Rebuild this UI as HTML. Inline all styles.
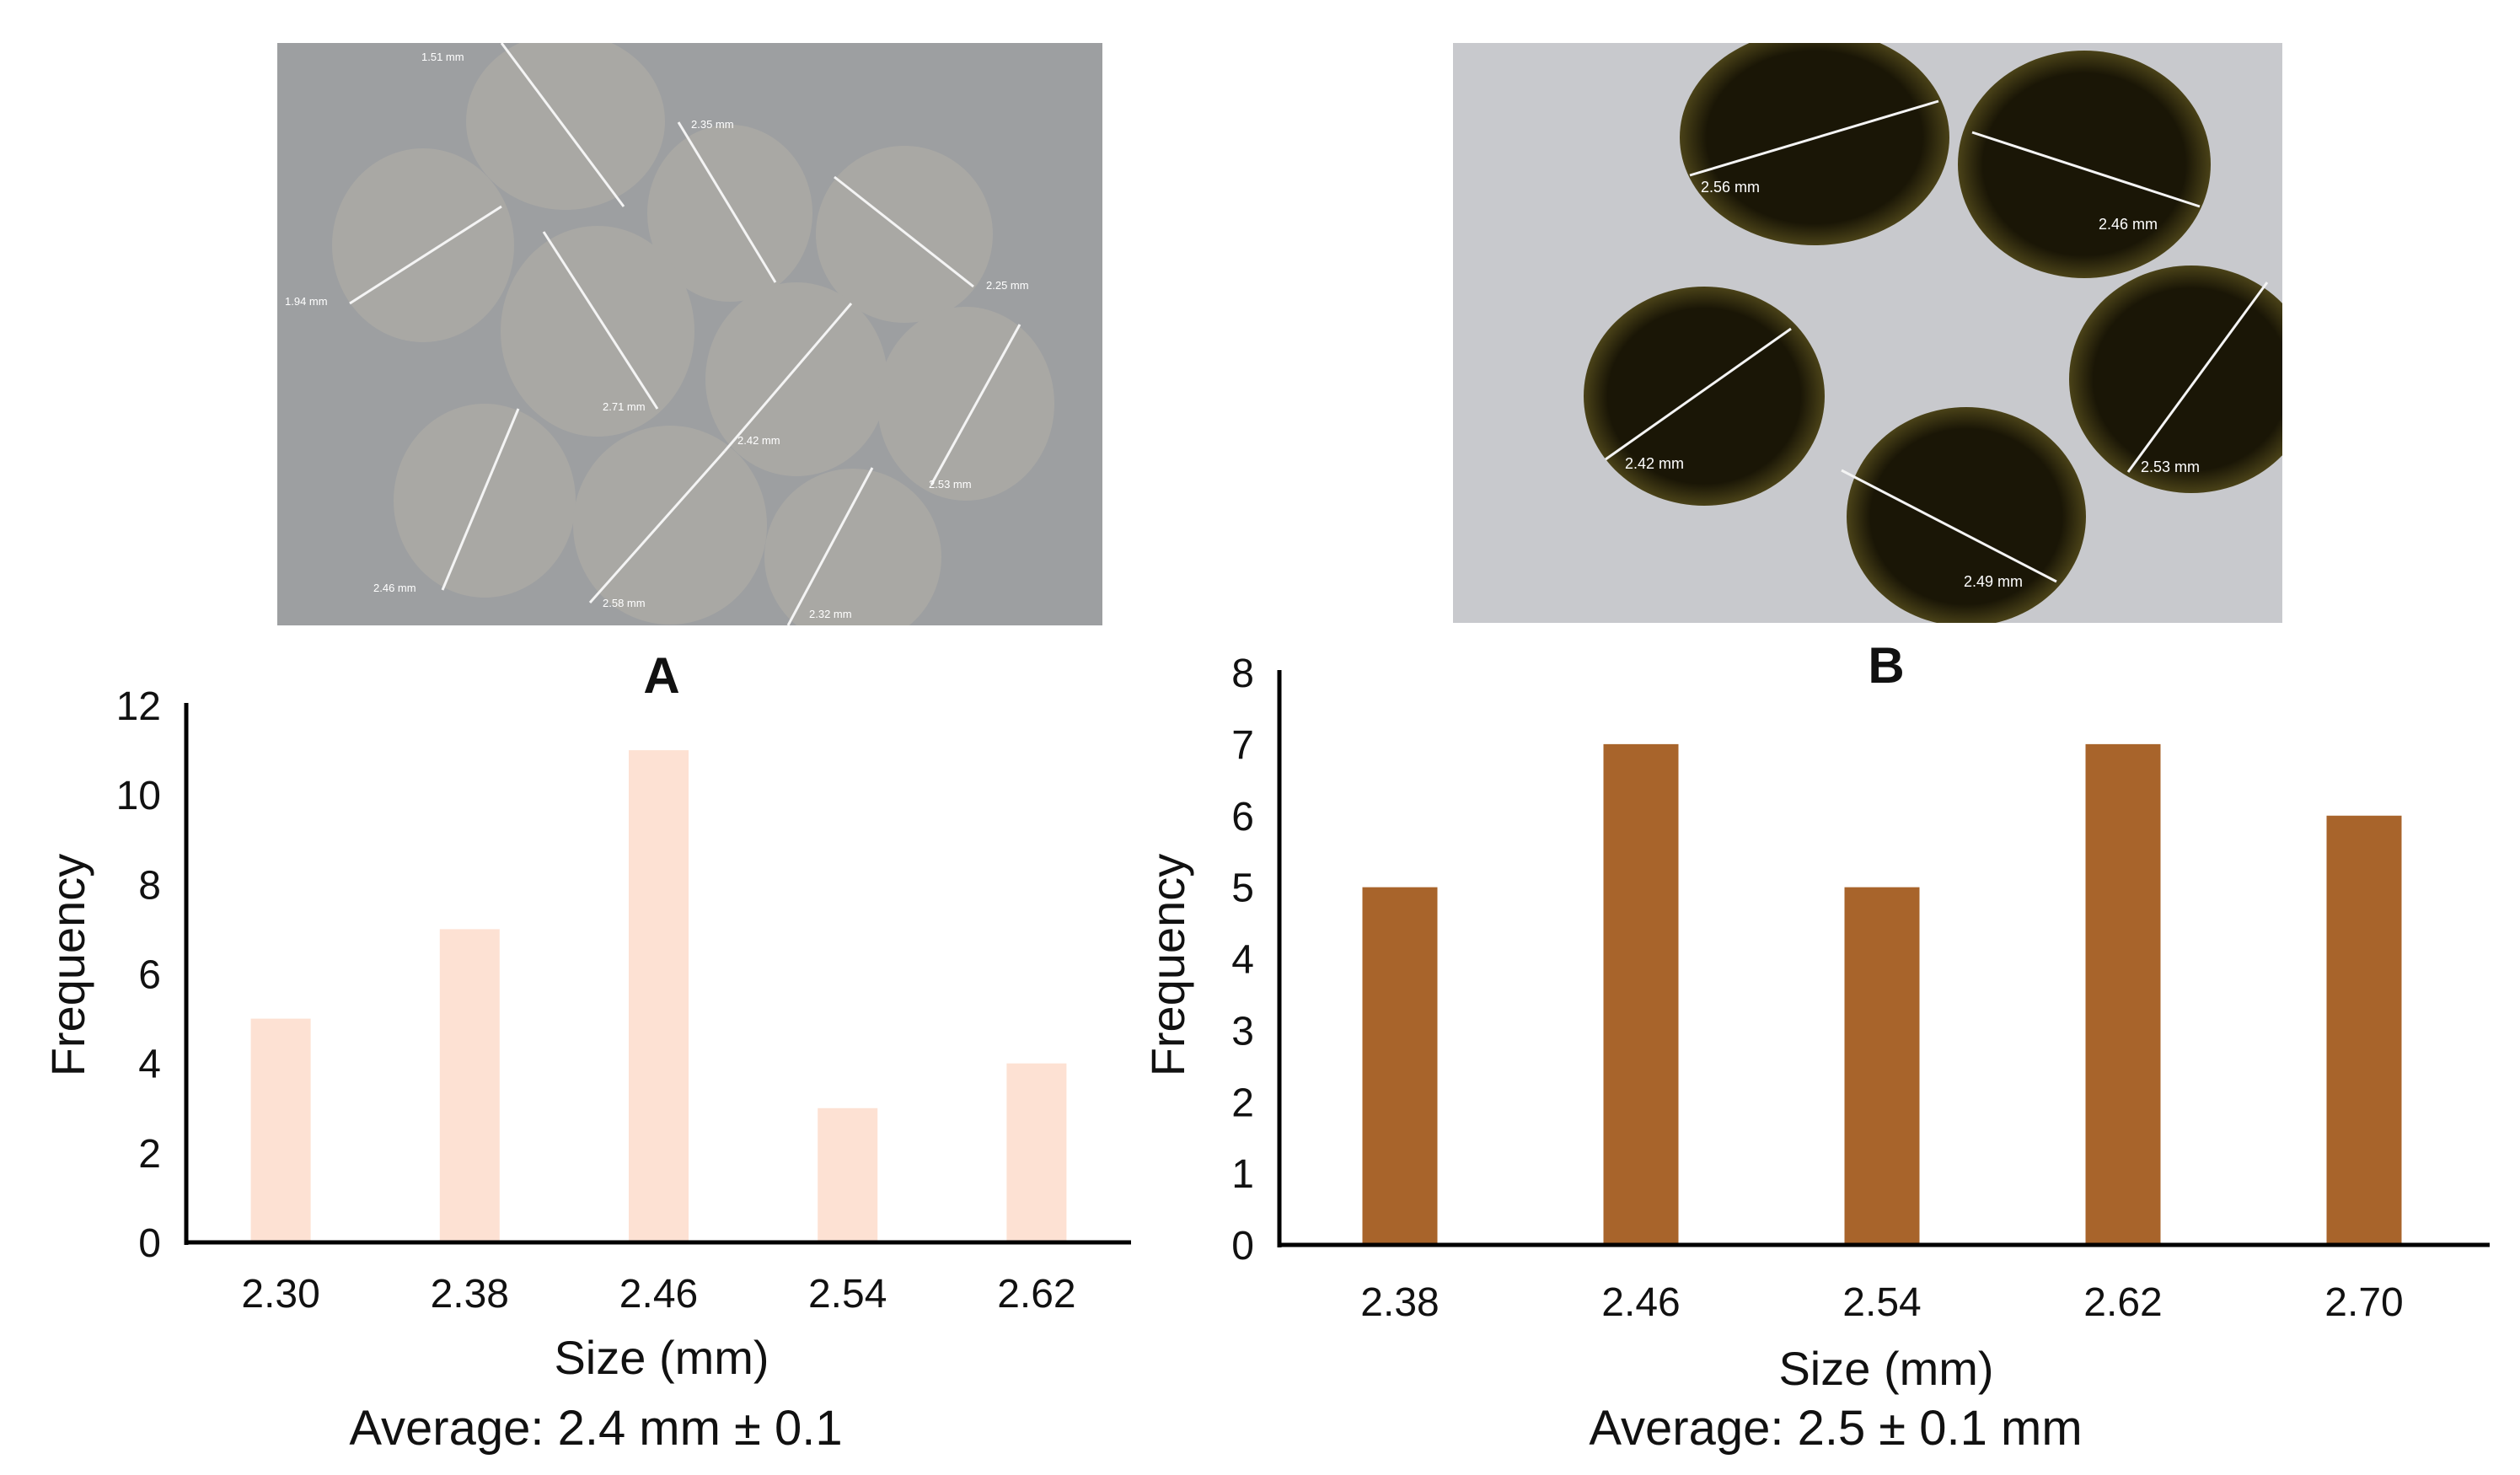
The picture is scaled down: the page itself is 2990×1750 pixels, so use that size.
<!DOCTYPE html>
<html><head><meta charset="utf-8"><style>
html,body{margin:0;padding:0;background:#fff}
svg{display:block}
text{font-family:"Liberation Sans",Arial,sans-serif;fill:#111}
</style></head><body>
<svg id="fig" width="2990" height="1750" viewBox="0 0 2990 1750" xmlns="http://www.w3.org/2000/svg">
<defs>
<clipPath id="clipA"><rect x="329" y="51" width="979" height="691"/></clipPath>
<clipPath id="clipB"><rect x="1724" y="51" width="984" height="688"/></clipPath>
<radialGradient id="seedB"><stop offset="0.8" stop-color="#1a1606"/><stop offset="1" stop-color="#4a4218"/></radialGradient>
</defs>
<g clip-path="url(#clipA)">
<rect x="329" y="51" width="979" height="691" fill="#9d9fa1"/>
<g fill="#a9a8a4">
<ellipse cx="671" cy="144" rx="118" ry="105"/><ellipse cx="502" cy="291" rx="108" ry="115"/>
<ellipse cx="866" cy="253" rx="98" ry="105"/><ellipse cx="1073" cy="278" rx="105" ry="105"/>
<ellipse cx="709" cy="393" rx="115" ry="125"/><ellipse cx="945" cy="450" rx="108" ry="115"/>
<ellipse cx="1146" cy="479" rx="105" ry="115"/><ellipse cx="575" cy="594" rx="108" ry="115"/>
<ellipse cx="795" cy="623" rx="115" ry="118"/><ellipse cx="1012" cy="661" rx="105" ry="105"/>
</g>
<g stroke="#f4f4f4" stroke-width="3">
<line x1="595" y1="51" x2="740" y2="245"/><line x1="415" y1="360" x2="595" y2="245"/>
<line x1="805" y1="145" x2="920" y2="335"/><line x1="990" y1="210" x2="1155" y2="340"/>
<line x1="645" y1="275" x2="780" y2="485"/><line x1="860" y1="535" x2="1010" y2="360"/>
<line x1="1105" y1="575" x2="1210" y2="385"/><line x1="525" y1="700" x2="615" y2="485"/>
<line x1="700" y1="715" x2="860" y2="535"/><line x1="935" y1="742" x2="1035" y2="555"/>
</g>
<g font-size="13" fill="#fff">
<text x="500" y="72" style="fill:#fff">1.51 mm</text><text x="820" y="152" style="fill:#fff">2.35 mm</text>
<text x="338" y="362" style="fill:#fff">1.94 mm</text><text x="1170" y="343" style="fill:#fff">2.25 mm</text>
<text x="715" y="487" style="fill:#fff">2.71 mm</text><text x="875" y="527" style="fill:#fff">2.42 mm</text>
<text x="1102" y="579" style="fill:#fff">2.53 mm</text><text x="443" y="702" style="fill:#fff">2.46 mm</text>
<text x="715" y="720" style="fill:#fff">2.58 mm</text><text x="960" y="733" style="fill:#fff">2.32 mm</text>
</g>
</g>
<g clip-path="url(#clipB)">
<rect x="1724" y="51" width="984" height="688" fill="#c8c9cd"/>
<g fill="url(#seedB)">
<ellipse cx="2153" cy="163" rx="160" ry="128"/><ellipse cx="2473" cy="195" rx="150" ry="135"/>
<ellipse cx="2022" cy="470" rx="143" ry="130"/><ellipse cx="2333" cy="613" rx="142" ry="130"/>
<ellipse cx="2600" cy="450" rx="145" ry="135"/>
</g>
<g stroke="#f4f4f4" stroke-width="3">
<line x1="2005" y1="208" x2="2300" y2="120"/><line x1="2340" y1="157" x2="2610" y2="245"/>
<line x1="1905" y1="545" x2="2125" y2="390"/><line x1="2185" y1="558" x2="2440" y2="690"/>
<line x1="2525" y1="560" x2="2690" y2="335"/>
</g>
<g font-size="18">
<text x="2018" y="228" style="fill:#fff">2.56 mm</text><text x="2490" y="272" style="fill:#fff">2.46 mm</text>
<text x="1928" y="556" style="fill:#fff">2.42 mm</text><text x="2330" y="696" style="fill:#fff">2.49 mm</text>
<text x="2540" y="560" style="fill:#fff">2.53 mm</text>
</g>
</g>
<g id="chartA"></g>
<g id="chartB"></g>
</svg>
<script>
const catsA = ["2.30","2.38","2.46","2.54","2.62"];
const valsA = [5,7,11,3,4];
const ticksA = [0,2,4,6,8,10,12];
const catsB = ["2.38","2.46","2.54","2.62","2.70"];
const valsB = [5,7,5,7,6];
const ticksB = [0,1,2,3,4,5,6,7,8];

const NS="http://www.w3.org/2000/svg";
function mk(parent,tag,attrs,txt){const e=document.createElementNS(NS,tag);for(const k in attrs)e.setAttribute(k,attrs[k]);if(txt!==undefined)e.textContent=txt;parent.appendChild(e);return e;}

function drawChart(g,cfg,cats,vals,ticks,letter,avg){
  const yScale=v=>cfg.y0-(v/cfg.ymax)*(cfg.y0-cfg.ytop);
  const step=(cfg.x1-cfg.x0)/cats.length;
  const xScale=i=>cfg.x0+step*(i+0.5);
  ticks.forEach(t=>{
    const tl=mk(g,'text',{x:cfg.x0-30,y:yScale(t)+17,'text-anchor':'end','font-size':48},String(t));
    
    
  });
  vals.forEach((v,i)=>{
    const r=mk(g,'rect',{x:xScale(i)-cfg.bw/2,y:yScale(v),width:cfg.bw,height:cfg.y0-yScale(v),fill:cfg.color});
    
    
  });
  cats.forEach((c,i)=>{
    const tl=mk(g,'text',{x:xScale(i),y:cfg.xlabY,'text-anchor':'middle','font-size':48},c);
    
    
  });
  const ya=mk(g,'line',{x1:cfg.x0,y1:cfg.ytop-3,x2:cfg.x0,y2:cfg.y0+3,stroke:'#000','stroke-width':5});
  
  
  const xa=mk(g,'line',{x1:cfg.x0-2,y1:cfg.y0,x2:cfg.x1+cfg.ext,y2:cfg.y0,stroke:'#000','stroke-width':5});
  
  
  const yt=mk(g,'text',{x:cfg.ylabX,y:1145,'text-anchor':'middle','font-size':56,transform:`rotate(-90 ${cfg.ylabX} 1145)`},'Frequency');
  
  
  const xt=mk(g,'text',{x:cfg.midX,y:cfg.xtitleY,'text-anchor':'middle','font-size':56},'Size (mm)');
  
  
  const av=mk(g,'text',{x:cfg.avgX,y:1714,'text-anchor':'middle','font-size':58},avg);
  
  
  const pl=mk(g,'text',{x:cfg.midX,y:cfg.letterY,'text-anchor':'middle','font-size':60,'font-weight':'bold'},letter);
  
  
}
drawChart(document.getElementById('chartA'),
  {x0:221,x1:1342,ext:0,y0:1474,ytop:837,ymax:12,bw:71,color:'#fde1d3',ylabX:100,midX:785,avgX:707,xlabY:1551,xtitleY:1630,letterY:822},
  catsA,valsA,ticksA,'A','Average: 2.4 mm \u00b1 0.1');
drawChart(document.getElementById('chartB'),
  {x0:1518,x1:2948,ext:6,y0:1477,ytop:798,ymax:8,bw:89,color:'#a8642b',ylabX:1405,midX:2238,avgX:2178,xlabY:1561,xtitleY:1643,letterY:810},
  catsB,valsB,ticksB,'B','Average: 2.5 \u00b1 0.1 mm');
</script>
</body></html>
